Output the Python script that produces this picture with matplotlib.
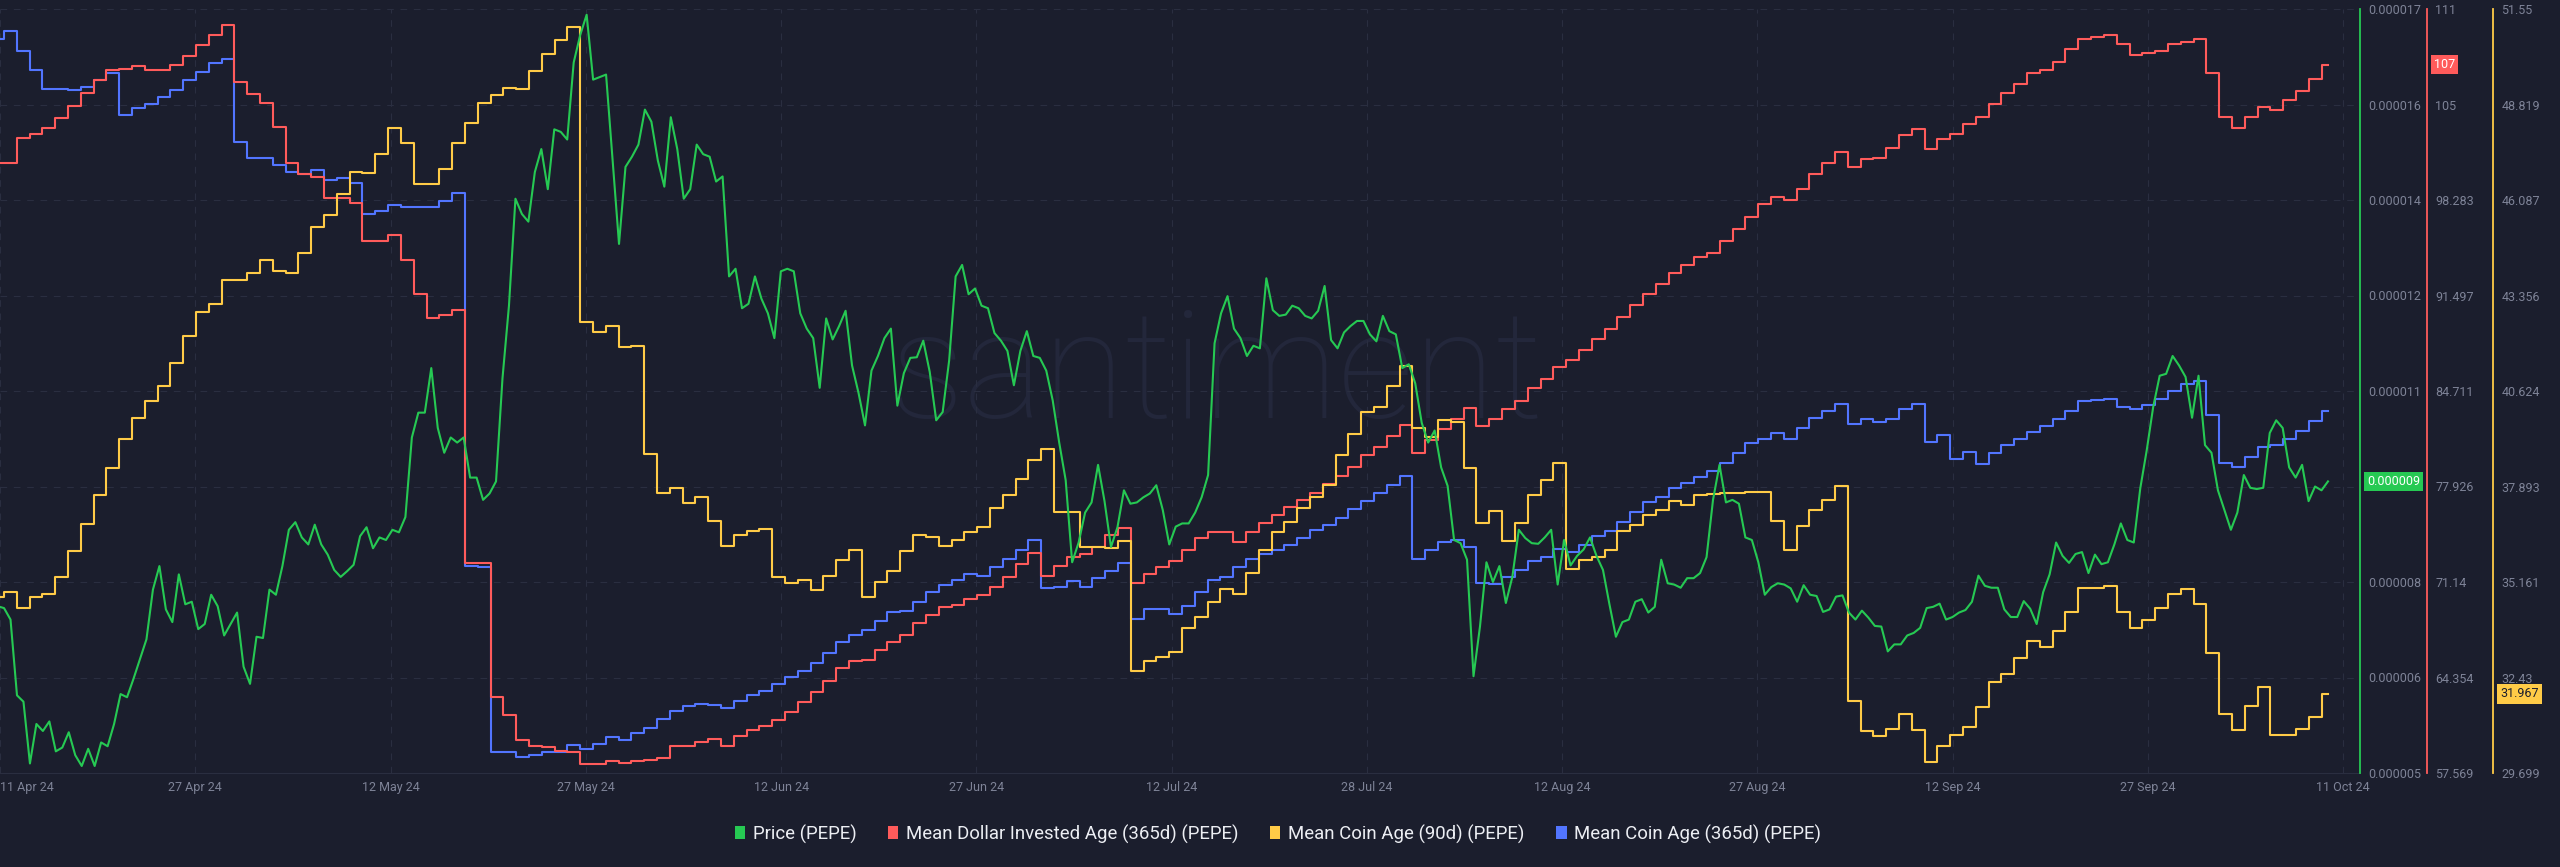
import numpy as np
import matplotlib.pyplot as plt
from matplotlib.patches import Patch
from matplotlib.transforms import blended_transform_factory

plt.rcParams['font.family'] = ['Roboto', 'DejaVu Sans']

# daily values, 11 Apr 2024 .. 11 Oct 2024
mean_dollar_age = [
    100.9, 100.9, 102.7, 103.0, 103.4, 104.1, 105.0, 105.9, 106.8, 107.5, 107.6, 107.8, 107.5, 107.5, 107.9, 108.5,
    109.3, 110.0, 110.7, 106.7, 105.8, 105.2, 103.5, 100.9, 100.1, 99.9, 98.4, 98.4, 98.1, 95.4, 95.4, 95.8,
    94.0, 91.6, 89.9, 90.1, 90.5, 72.5, 72.5, 63.0, 61.7, 59.9, 59.5, 59.4, 59.1, 59.05, 58.2, 58.2,
    58.4, 58.3, 58.4, 58.5, 58.6, 59.5, 59.5, 59.8, 60.0, 59.5, 60.2, 60.6, 60.9, 61.3, 61.9, 62.6,
    63.3, 64.1, 65.0, 65.5, 65.6, 66.3, 66.9, 67.4, 68.2, 68.8, 69.4, 69.5, 69.9, 70.2, 70.8, 71.5,
    72.4, 73.2, 71.6, 72.3, 72.9, 73.1, 73.6, 74.5, 75.0, 71.1, 71.7, 72.2, 72.6, 73.4, 74.3,
    74.7, 74.7, 74.0, 74.7, 75.3, 75.9, 76.5, 77.0, 77.5, 78.1, 78.7, 79.3, 80.2, 80.7, 81.5, 82.3,
    80.3, 81.2, 82.0, 82.7, 83.5, 82.2, 82.7, 83.4, 84.0, 84.9, 85.6, 86.4, 86.9, 87.6, 88.4,
    89.1, 90.0, 90.8, 91.6, 92.3, 93.1, 93.7, 94.2, 94.5, 95.4, 96.2, 97.1, 98.0, 98.5, 98.3, 99.1,
    100.1, 100.9, 101.7, 100.6, 101.2, 101.3, 102.0, 102.9, 103.3, 101.9, 102.6, 103.0, 103.7, 104.2, 105.1,
    105.9, 106.5, 107.3, 107.55, 108.1, 109.0, 109.7, 109.9, 110.0, 109.4, 108.6, 108.7, 108.9, 109.4, 109.5,
    109.7, 107.3, 104.2, 103.4, 104.2, 104.9, 104.7, 105.4, 106.0, 106.9, 107.9,
]

mean_coin_age_365 = [
    109.7, 110.3, 108.9, 107.55, 106.2, 106.2, 106.1, 106.35, 106.8, 107.3, 104.3, 104.8, 105.1, 105.6, 106.1, 106.8,
    107.4, 108.0, 108.3, 102.4, 101.3, 101.3, 100.8, 100.3, 100.1, 100.4, 99.7, 99.85, 99.5, 97.3, 97.5, 97.9,
    97.76, 97.76, 97.76, 98.2, 98.8, 72.3, 72.2, 59.05, 59.05, 58.7, 58.85, 59.05, 59.05, 59.55, 59.3, 59.65,
    60.1, 59.9, 60.4, 60.8, 61.4, 62.0, 62.3, 62.45, 62.4, 62.2, 62.7, 63.1, 63.4, 63.9, 64.4, 64.85,
    65.4, 66.1, 66.9, 67.4, 67.7, 68.4, 69.0, 69.1, 69.7, 70.4, 70.9, 71.25, 71.7, 71.6, 72.2, 72.8,
    73.4, 74.1, 70.7, 70.8, 71.2, 70.8, 71.4, 71.95, 72.5, 68.5, 69.2, 69.2, 68.85, 69.45, 70.4,
    71.3, 71.5, 72.2, 72.8, 73.1, 73.4, 73.8, 74.3, 74.85, 75.2, 75.7, 76.3, 76.9, 77.5, 78.0, 78.7,
    72.8, 73.4, 74.0, 74.15, 73.6, 71.1, 71.0, 71.5, 72.0, 72.6, 72.9, 73.5, 73.3, 73.8, 74.4,
    74.75, 75.4, 76.1, 76.8, 77.15, 77.85, 78.2, 78.6, 79.0, 79.6, 80.3, 81.0, 81.3, 81.75, 81.3, 82.1,
    82.8, 83.3, 83.8, 82.35, 82.7, 82.5, 82.7, 83.4, 83.8, 81.1, 81.6, 79.9, 80.4, 79.55, 80.3,
    80.9, 81.3, 81.8, 82.2, 82.7, 83.3, 84.0, 84.1, 84.15, 83.6, 83.4, 83.7, 84.15, 84.7, 85.2,
    85.4, 83.0, 79.6, 79.3, 80.05, 80.7, 80.9, 81.3, 81.9, 82.6, 83.3,
]

mean_coin_age_90 = [
    34.73, 34.88, 34.42, 34.73, 34.83, 35.30, 36.04, 36.83, 37.65, 38.43, 39.24, 39.86, 40.35, 40.78, 41.42, 42.19,
    42.89, 43.10, 43.81, 43.81, 44.01, 44.38, 44.05, 44.01, 44.58, 45.32, 45.66, 46.26, 46.90, 46.86, 47.40, 48.14,
    47.71, 46.54, 46.54, 46.97, 47.71, 48.28, 48.85, 49.10, 49.30, 49.27, 49.79, 50.27, 50.67, 51.04, 42.59, 42.32,
    42.47, 41.89, 41.92, 38.83, 37.72, 37.84, 37.41, 37.58, 36.91, 36.20, 36.51, 36.63, 36.68, 35.30, 35.13, 35.23,
    34.92, 35.33, 35.80, 36.07, 34.73, 35.16, 35.47, 36.04, 36.51, 36.44, 36.19, 36.37, 36.58, 36.73, 37.29, 37.65,
    38.12, 38.65, 38.96, 37.15, 37.15, 36.16, 36.16, 36.13, 36.34, 32.63, 32.91, 33.03, 33.17, 33.84, 34.17,
    34.59, 34.97, 34.83, 35.42, 36.09, 36.58, 36.87, 37.27, 37.58, 37.94, 38.79, 39.40, 40.03, 40.17, 40.78, 41.35,
    39.57, 39.32, 39.79, 39.74, 38.41, 36.84, 37.18, 36.33, 36.84, 37.65, 38.08, 38.57, 35.52, 35.80, 35.87,
    36.09, 36.61, 36.80, 37.08, 37.22, 37.47, 37.37, 37.65, 37.69, 37.72, 37.72, 37.75, 37.75, 36.90, 36.09, 36.77,
    37.22, 37.51, 37.91, 31.75, 30.89, 30.75, 30.97, 31.39, 30.92, 30.01, 30.47, 30.78, 31.01, 31.58, 32.29,
    32.53, 33.00, 33.48, 33.31, 33.77, 34.31, 34.99, 34.99, 35.05, 34.31, 33.85, 34.07, 34.42, 34.81, 34.97,
    34.52, 33.14, 31.39, 30.92, 31.61, 32.17, 30.78, 30.79, 30.97, 31.29, 31.96,
]

# PEPE price, two readings a day, in millionths of a dollar
price_musd = [
    7.62, 7.59, 7.41, 6.22, 6.12, 5.15, 5.77, 5.66, 5.81, 5.34, 5.40, 5.64, 5.28, 5.11, 5.38, 5.11, 5.48, 5.42, 5.77, 6.24,
    6.19, 6.48, 6.79, 7.10, 7.88, 8.25, 7.57, 7.37, 8.12, 7.65, 7.69, 7.26, 7.34, 7.80, 7.62, 7.16, 7.34, 7.52, 6.67, 6.40,
    7.14, 7.12, 7.88, 7.80, 8.25, 8.82, 8.94, 8.70, 8.59, 8.90, 8.59, 8.43, 8.19, 8.08, 8.17, 8.27, 8.72, 8.86, 8.53, 8.70,
    8.66, 8.82,
    8.78, 9.02, 10.27, 10.66, 10.66, 11.36, 10.42, 10.03, 10.27, 10.19, 10.27, 9.64, 9.64, 9.29, 9.39, 9.58, 11.20, 12.34,
    14.02, 13.78, 13.66, 14.44, 14.80, 14.17, 15.11, 15.07, 14.95, 16.16, 16.59, 16.91, 15.89, 15.93, 15.97, 14.64, 13.31,
    14.52, 14.68, 14.87, 15.42, 15.23, 14.62, 14.21, 15.30, 14.80, 14.02, 14.17, 14.87, 14.72, 14.68, 14.29, 14.37, 12.80,
    12.92, 12.30, 12.37, 12.80, 12.45, 12.22, 11.83, 12.88, 12.92, 12.88,
    12.22, 11.98, 11.83, 11.05, 12.14, 11.81, 12.02, 12.26, 11.40, 10.97, 10.46, 11.32, 11.55, 11.83, 11.98, 10.77, 11.28,
    11.52, 11.53, 11.79, 11.30, 10.54, 10.67, 11.48, 12.80, 12.98, 12.52, 12.61, 12.34, 12.30, 11.91, 11.79, 11.63, 11.09,
    11.63, 11.94, 11.55, 11.52, 11.32, 10.85, 10.19, 9.60, 8.31, 8.62, 9.09, 9.25, 9.84, 9.27, 8.55, 8.86, 9.44, 9.23,
    9.25, 9.33, 9.39, 9.52, 9.13, 8.59, 8.87, 8.92, 8.92, 9.09,
    9.33, 9.68, 11.75, 12.22, 12.49, 11.98, 11.83, 11.55, 11.71, 11.67, 12.77, 12.27, 12.18, 12.20, 12.34, 12.30, 12.18,
    12.14, 12.26, 12.65, 11.80, 11.67, 11.92, 12.02, 12.10, 12.10, 11.89, 11.78, 12.18, 11.94, 11.89, 11.36, 11.42, 11.12,
    10.50, 10.19, 10.38, 9.80, 9.51, 8.66, 8.61, 8.35, 6.52, 7.30, 8.31, 8.00, 8.25, 7.67, 8.08, 8.82, 8.69, 8.61, 8.60,
    8.70, 8.82, 7.96, 8.66, 8.26, 8.41, 8.51, 8.70, 8.41,
    8.19, 7.65, 7.14, 7.37, 7.41, 7.69, 7.73, 7.52, 7.61, 8.35, 7.98, 7.96, 7.91, 8.06, 8.06, 8.14, 8.39, 9.29, 9.84, 9.25,
    9.29, 9.23, 8.70, 8.66, 8.31, 7.80, 7.92, 7.98, 7.96, 7.90, 7.69, 7.95, 7.80, 7.78, 7.53, 7.57, 7.77, 7.79, 7.52, 7.41,
    7.55, 7.44, 7.31, 7.30, 6.91, 7.02, 7.02, 7.16, 7.20, 7.28, 7.59, 7.61, 7.66, 7.41, 7.45, 7.52, 7.56, 7.69, 8.10, 7.94,
    7.91, 7.91,
    7.57, 7.45, 7.45, 7.70, 7.58, 7.34, 7.84, 8.12, 8.62, 8.41, 8.30, 8.44, 8.47, 8.14, 8.43, 8.28, 8.31, 8.59, 8.92, 8.66,
    8.62, 9.47, 10.07, 10.75, 11.24, 11.27, 11.55, 11.40, 11.22, 10.58, 11.24, 10.15, 10.03, 9.44, 9.13, 8.82, 9.09, 9.68,
    9.48, 9.46, 9.48, 10.34, 10.54, 10.42, 9.80, 9.64, 9.84, 9.27, 9.50, 9.44, 9.58,
]

date_labels = ['11 Apr 24', '27 Apr 24', '12 May 24', '27 May 24', '12 Jun 24', '27 Jun 24', '12 Jul 24',
               '28 Jul 24', '12 Aug 24', '27 Aug 24', '12 Sep 24', '27 Sep 24', '11 Oct 24']
# the 4th price label sits under the current-price tag, so it is left blank
price_labels = ['0.000005', '0.000006', '0.000008', '', '0.000011', '0.000012', '0.000014', '0.000016', '0.000017']
mdia_labels = ['57.569', '64.354', '71.14', '77.926', '84.711', '91.497', '98.283', '105', '111']
mca90_labels = ['29.699', '32.43', '35.161', '37.893', '40.624', '43.356', '46.087', '48.819', '51.55']

bg = '#1b1e2d'
gridc = '#2a2e40'
tickc = '#7e8397'
green = '#26c953'
red = '#ff5b5b'
yellow = '#ffcb47'
blue = '#5275ff'

W, H = 2560, 867
fig = plt.figure(figsize=(W / 100, H / 100), dpi=100, facecolor=bg)
ax = fig.add_axes([0, 94 / H, 2360 / W, 764 / H])
ax.set_facecolor(bg)
ax_y = ax.twinx()
ax_p = ax.twinx()
ax.set_zorder(1)
ax_y.set_zorder(2)
ax_p.set_zorder(3)

days = np.arange(len(mean_dollar_age))
t_price = np.linspace(0, days[-1], len(price_musd))

ax.plot(days, mean_coin_age_365, color=blue, lw=1.5, drawstyle='steps-mid')
ax.plot(days, mean_dollar_age, color=red, lw=1.5, drawstyle='steps-mid')
ax_y.plot(days, mean_coin_age_90, color=yellow, lw=1.5, drawstyle='steps-mid')
ax_p.plot(t_price, np.array(price_musd) * 1e-6, color=green, lw=1.5)

ax.set_xlim(0.19, 184.5)
ax.set_xticks(0.19 + 15.25 * np.arange(len(date_labels)), date_labels)
ax.tick_params(axis='x', length=0, pad=6, colors=tickc, labelsize=9)
ax.get_xticklabels()[0].set_ha('left')

lo, hi = 57.569, 111.858
ax.set_ylim(lo, hi)
ax.set_yticks(np.linspace(lo, hi, 9), mdia_labels)
ax.yaxis.tick_right()
ax.spines['right'].set_position(('axes', 2427 / 2360))

ax_y.set_ylim(29.699, 51.55)
ax_y.set_yticks(np.linspace(29.699, 51.55, 9), mca90_labels)
ax_y.spines['right'].set_position(('axes', 2493 / 2360))

ax_p.set_ylim(5e-6, 17e-6)
ax_p.set_yticks(np.linspace(5e-6, 17e-6, 9), price_labels)

for a, c in ((ax, red), (ax_y, yellow), (ax_p, green)):
    for s in ('top', 'left', 'bottom'):
        a.spines[s].set_visible(False)
    a.spines['right'].set_color(c)
    a.spines['right'].set_linewidth(1.3)
    a.tick_params(axis='y', length=0, pad=6, colors=tickc, labelsize=9)
ax.spines['bottom'].set_visible(True)
ax.spines['bottom'].set_color(gridc)

ax.grid(True, color=gridc, lw=0.8, ls=(0, (6, 6)))

ax.text(1216 / 2360, 355 / 764, 'santiment', transform=ax.transAxes, ha='center', va='baseline',
        fontsize=108, color='#23273b', fontweight='light', zorder=0)

# current value tags on the axes
tr = blended_transform_factory(ax_p.transAxes, ax_p.transData)
ax_p.text(2367 / 2360, price_musd[-1] * 1e-6, '0.000009', transform=tr, ha='left', va='center',
          fontsize=9, color='white', clip_on=False,
          bbox=dict(boxstyle='square,pad=0.25', fc=green, ec='none'))
tr = blended_transform_factory(ax.transAxes, ax.transData)
ax.text(2434 / 2360, mean_dollar_age[-1], '107', transform=tr, ha='left', va='center',
        fontsize=9, color='white', clip_on=False,
        bbox=dict(boxstyle='square,pad=0.25', fc=red, ec='none'))
tr = blended_transform_factory(ax_y.transAxes, ax_y.transData)
ax_y.text(2500 / 2360, mean_coin_age_90[-1], '31.967', transform=tr, ha='left', va='center',
          fontsize=9, color='#1b1e2d', clip_on=False,
          bbox=dict(boxstyle='square,pad=0.25', fc=yellow, ec='none'))

handles = [Patch(fc=green, ec='none', label='Price (PEPE)'),
           Patch(fc=red, ec='none', label='Mean Dollar Invested Age (365d) (PEPE)'),
           Patch(fc=yellow, ec='none', label='Mean Coin Age (90d) (PEPE)'),
           Patch(fc=blue, ec='none', label='Mean Coin Age (365d) (PEPE)')]
fig.legend(handles=handles, loc='center', bbox_to_anchor=(1278 / W, 33 / H), ncol=4, frameon=False,
           fontsize=13.4, labelcolor='#eceef3', handlelength=0.55, handleheight=0.72,
           handletextpad=0.42, columnspacing=1.7)

fig.savefig('out.png', dpi=100, facecolor=bg)
